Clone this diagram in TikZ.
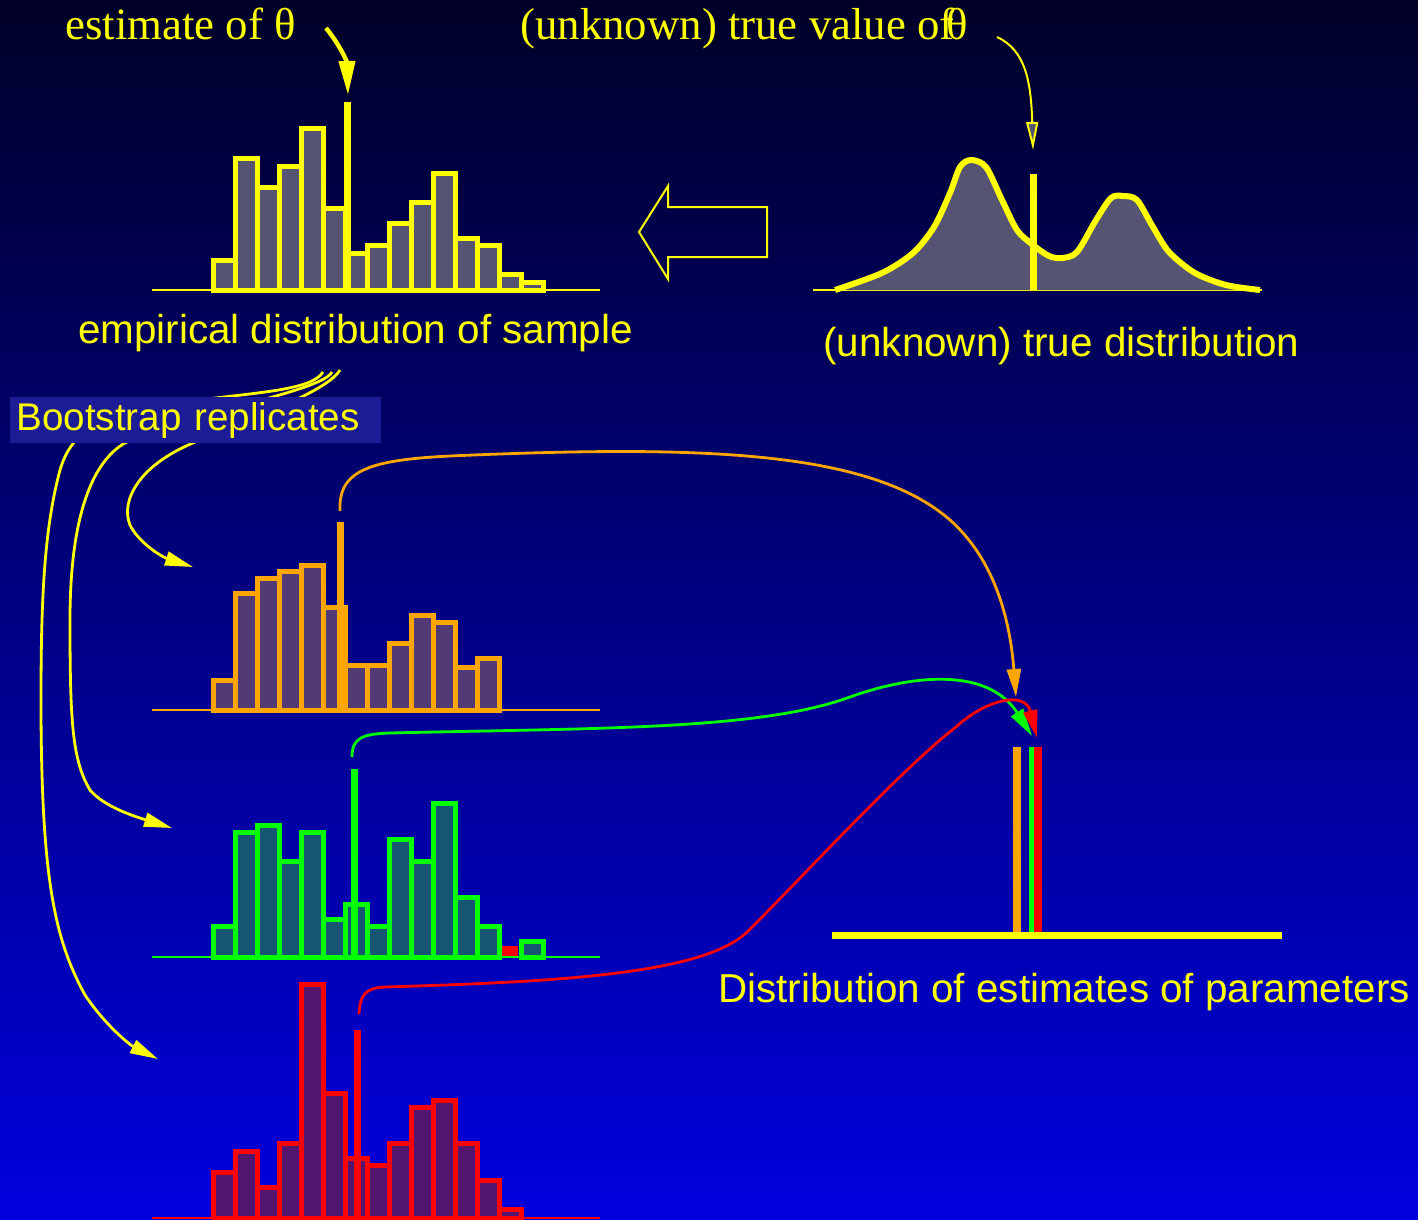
\documentclass[tikz,border=0pt]{standalone}
\usepackage{fontspec}
\setmainfont{Liberation Sans}
\newfontfamily\timesfont{Liberation Serif}
\usetikzlibrary{arrows.meta, positioning}

\definecolor{bgtop}{RGB}{0,0,40}
\definecolor{bgbottom}{RGB}{0,0,222}
\definecolor{boxblue}{RGB}{28,28,150}
\definecolor{sunyellow}{RGB}{255,255,0}
\definecolor{bsorange}{RGB}{255,165,0}
\definecolor{bsgreen}{RGB}{0,255,0}
\definecolor{bsred}{RGB}{255,0,0}
\definecolor{greyfill}{RGB}{85,85,115}
\definecolor{orangefill}{RGB}{82,58,117}
\definecolor{greenfill}{RGB}{22,85,115}
\definecolor{redfill}{RGB}{82,22,112}

\tikzset{
  caption/.style={text=sunyellow, inner sep=0pt, font=\fontsize{20.2}{24}\selectfont},
  serifcap/.style={text=sunyellow, inner sep=0pt, font=\timesfont\fontsize{22.4}{26}\selectfont},
  axisline/.style={line width=1.3pt},
  histbar/.style={line width=2.5pt},
  spike/.style={line width=3.5pt},
  link/.style={line width=1.4pt, -{Triangle[length=14pt,width=7pt]}},
}

% #1 line colour, #2 fill colour, #3 base line, #4 bins as index/top
\newcommand{\drawhist}[4]{%
  \draw[#1, axisline] (152,#3) -- (600,#3);
  \foreach \bin/\bartop in {#4}
    \draw[#1, histbar, fill=#2] ({213+22*\bin},#3) rectangle ({235+22*\bin},\bartop);
}

\begin{document}
\begin{tikzpicture}[x=0.5pt, y=-0.5pt]

    \fill[top color=bgtop, bottom color=bgbottom] (0,0) rectangle (1418,1220);
    \useasboundingbox (0,0) rectangle (1418,1220);

    % ---------- sample

    \drawhist{sunyellow}{greyfill}{290}{0/260,1/158,2/187,3/166,4/129,5/208,6/253,7/245,8/223,9/202,10/173,11/238,12/245,13/274,14/282}
    \draw[sunyellow, spike] (347.5,290) -- (347.5,102);

    \node[caption, anchor=base] (emplabel) at (355.5,343) {empirical distribution of sample};
    \node[serifcap, anchor=base] (estlabel) at (180.5,40) {estimate of θ};

    \coordinate (estfrom) at (326,28);
    \coordinate (esttip) at (348,95);
    \draw[sunyellow, line width=2.2pt, -{Triangle[length=17pt,width=8pt]}]
        (estfrom) .. controls (340,45) and (347,62) .. (esttip);

    % ---------- true distribution

    \draw[sunyellow, line width=1pt] (813,290) -- (1262,290);
    \fill[greyfill] plot[smooth] coordinates {(835,290) (882,273) (913,253) (934,227) (950,193) (960,167) (971,160) (986,167) (1002,200) (1017,230) (1033,245) (1049,256) (1062,258) (1077,252) (1096,220) (1111,198) (1123,196) (1137,200) (1153,227) (1169,252) (1195,273) (1226,285) (1260,290)} -- cycle;
    \draw[sunyellow, line width=3pt] plot[smooth] coordinates {(835,290) (882,273) (913,253) (934,227) (950,193) (960,167) (971,160) (986,167) (1002,200) (1017,230) (1033,245) (1049,256) (1062,258) (1077,252) (1096,220) (1111,198) (1123,196) (1137,200) (1153,227) (1169,252) (1195,273) (1226,285) (1260,290)};
    \draw[sunyellow, spike] (1033,290) -- (1033,174);

    \node[caption, anchor=base] (truedist) at (1061.5,356) {(unknown) true distribution};
    \node[serifcap, anchor=base west] (truelabel) at (520,40) {(unknown) true value of\kern-0.18emθ};

    \coordinate (truefrom) at (997,37);
    \coordinate (truetip) at (1033,150);
    \draw[sunyellow, line width=1pt, -{Triangle[length=14pt,width=6pt,fill=greyfill]}]
        (truefrom) .. controls (1025,50) and (1031,80) .. (truetip);

    % hollow arrow
    \draw[sunyellow, line width=1pt] (639,232) -- (668,186) -- (668,207) -- (767,207)
        -- (767,257) -- (668,257) -- (668,279) -- cycle;

    % ---------- bootstrap arrows

    \coordinate (bootA) at (340,370);
    \coordinate (bootB) at (332,372);
    \coordinate (bootC) at (323,372);
    \coordinate (orangein) at (193,567);
    \coordinate (greenin) at (172,828);
    \coordinate (redin) at (158,1059);

    \draw[sunyellow, link] (bootA) .. controls (325,395) and (230,425) .. (193,443)
        .. controls (140,465) and (120,500) .. (130,525)
        .. controls (140,545) and (165,558) .. (orangein);
    \draw[sunyellow, link] (bootB) .. controls (322,392) and (180,415) .. (125,443)
        .. controls (95,460) and (70,510) .. (70,620)
        .. controls (70,720) and (72,760) .. (90,790)
        .. controls (105,808) and (140,818) .. (greenin);
    \draw[sunyellow, link] (bootC) .. controls (312,390) and (260,392) .. (200,400)
        .. controls (100,412) and (72,430) .. (60,470)
        .. controls (44,530) and (41,600) .. (41,700)
        .. controls (41,880) and (55,940) .. (85,995)
        .. controls (105,1025) and (130,1045) .. (redin);

    \node[caption, font=\fontsize{19.3}{23}\selectfont, fill=boxblue, anchor=north west,
          minimum height=23pt, text width=179.5pt, inner xsep=3pt, align=left]
          (bootlabel) at (10,397) {Bootstrap replicates};

    % ---------- replicates

    \drawhist{bsorange}{orangefill}{710}{0/680,1/593,2/578,3/571,4/565,5/607,6/665,7/665,8/643,9/615,10/622,11/667,12/658}
    \draw[bsorange, spike] (340,710) -- (340,522);

    \fill[bsred] (496,946) rectangle (518,957);
    \drawhist{bsgreen}{greenfill}{957}{0/926,1/832,2/825,3/861,4/832,5/919,6/904,7/926,8/839,9/861,10/803,11/897,12/926,14/941}
    \draw[bsgreen, spike] (354,957) -- (354,769);

    \drawhist{bsred}{redfill}{1218}{0/1172,1/1151,2/1187,3/1143,4/984,5/1093,6/1158,7/1165,8/1143,9/1107,10/1100,11/1143,12/1180,13/1209}
    \draw[bsred, spike] (357,1218) -- (357,1030);

    % ---------- estimates

    \draw[bsorange, line width=4pt] (1017,935) -- (1017,747);
    \draw[bsgreen, line width=2.5pt] (1031,935) -- (1031,747);
    \draw[bsred, line width=4pt] (1038,935) -- (1038,747);
    \draw[sunyellow, line width=3.5pt] (832,935) -- (1282,935);

    \node[caption, anchor=base] (estdist) at (1064,1002) {Distribution of estimates of parameters};

    \coordinate (orangefrom) at (340,511);
    \coordinate (greenfrom) at (352,757);
    \coordinate (redfrom) at (359,1014);
    \coordinate (orangeest) at (1016,697);
    \coordinate (greenest) at (1032,736);
    \coordinate (redest) at (1037,738);

    \draw[bsorange, link] (orangefrom) .. controls (338,470) and (370,460) .. (450,456)
        .. controls (700,445) and (870,450) .. (950,520)
        .. controls (995,560) and (1010,620) .. (orangeest);
    \draw[bsgreen, link] (greenfrom) .. controls (352,738) and (362,734) .. (390,733)
        .. controls (600,728) and (760,730) .. (850,697)
        .. controls (920,672) and (990,670) .. (greenest);
    \draw[bsred, link] (redfrom) .. controls (360,995) and (365,988) .. (385,987)
        .. controls (550,982) and (700,975) .. (746,933)
        .. controls (800,880) and (900,770) .. (956,727)
        .. controls (985,700) and (1025,690) .. (redest);

\end{tikzpicture}
\end{document}
